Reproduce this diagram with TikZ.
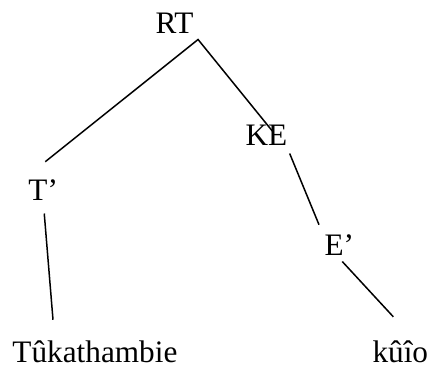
\documentclass[tikz,border=0pt]{standalone}
\usepackage{fontspec}
\setmainfont{Liberation Serif}
\usepackage{tikz}

\begin{document}
\begin{tikzpicture}[x=0.4pt,y=-0.4pt,
lbl/.style={inner sep=0pt,anchor=base west,font=\fontsize{12.5}{14}\selectfont},
branch/.style={line width=0.6pt}]
\useasboundingbox (0,0) rectangle (431,367);
\node[lbl] (rt) at (155,33) {RT};
\node[lbl] (tbar) at (28,200) {T’};
\node[lbl] (ke) at (245,145) {KE};
\node[lbl] (ebar) at (324,255) {E’};
\node[lbl] (verb) at (12,362) {Tûkathambie};
\node[lbl] (obj) at (372,362) {kûîo};
\draw[branch] ([shift={(2,-17)}]tbar.north) -- ([shift={(4,6)}]rt.south east) -- ([shift={(6,7)}]ke.north);
\draw[branch] ([shift={(2,8)}]ke.south east) -- ([shift={(-5,-9)}]ebar.north west);
\draw[branch] ([shift={(3,6)}]ebar.south) -- ([shift={(-7,-23)}]obj.north);
\draw[branch] ([shift={(1,13)}]tbar.south) -- ([shift={(41,-20)}]verb.north west);
\end{tikzpicture}
\end{document}
